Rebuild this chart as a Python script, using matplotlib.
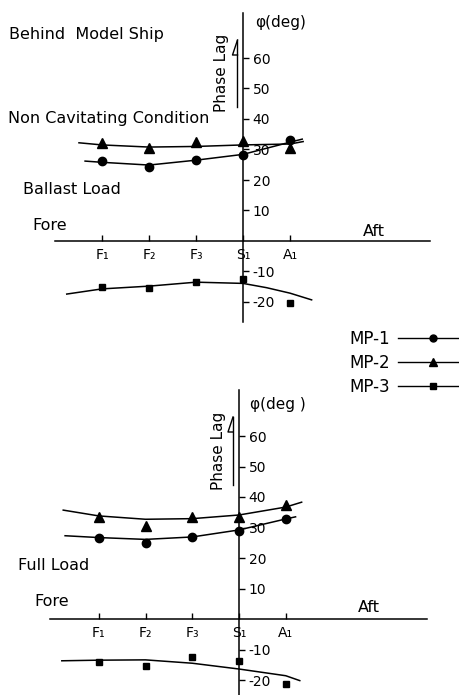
import matplotlib.pyplot as plt
from matplotlib.lines import Line2D


# ==========================================================
# Data (phase lag in deg, stations relative to S1)
# ==========================================================

STATIONS = ["F₁", "F₂", "F₃", "S₁", "A₁"]
STATION_X = [-3, -2, -1, 0, 1]
Y_TICKS = [-20, -10, 10, 20, 30, 40, 50, 60]

BALLAST_MP1 = [26.2, 24.2, 26.6, 28.2, 33.1]
BALLAST_MP2 = [32.0, 30.6, 32.6, 32.9, 30.4]
BALLAST_MP3 = [-15.0, -15.3, -13.5, -12.5, -20.4]

FULL_MP1 = [26.5, 25.0, 26.9, 29.0, 32.8]
FULL_MP2 = [33.5, 30.6, 33.5, 33.5, 37.4]
FULL_MP3 = [-14.2, -15.4, -12.6, -13.8, -21.3]

# faired curves
BALLAST_CX1 = [-3.36, -3, -2, -1, 0, 1, 1.26]
BALLAST_C1 = [26.2, 25.8, 24.9, 26.5, 28.4, 32.4, 33.4]
BALLAST_CX2 = [-3.49, -3, -2, -1, 0, 1, 1.28]
BALLAST_C2 = [32.2, 31.5, 30.8, 31.0, 31.5, 31.8, 32.6]
BALLAST_CX3 = [-3.75, -3, -2, -1, 0, 0.5, 1, 1.46]
BALLAST_C3 = [-17.4, -15.7, -14.8, -13.5, -13.9, -15.3, -17.1, -19.3]

FULL_CX1 = [-3.72, -3, -2, -1, 0, 1, 1.21]
FULL_C1 = [27.3, 26.7, 26.1, 26.9, 29.2, 32.8, 33.5]
FULL_CX2 = [-3.76, -3, -2, -1, 0, 1, 1.34]
FULL_C2 = [35.7, 33.8, 32.7, 32.9, 34.1, 36.7, 38.3]
FULL_CX3 = [-3.79, -3, -2, -1, 0, 1, 1.3]
FULL_C3 = [-13.7, -13.5, -13.4, -14.5, -16.4, -18.6, -20.2]

LEGEND_LABELS = ["MP-1", "MP-2", "MP-3"]
MARKERS = ["o", "^", "s"]
MARKER_SIZES = [6, 6.5, 5]

plt.rcParams["axes.unicode_minus"] = False


# ==========================================================
# Helper
# ==========================================================

def setup_panel(fig, rect, xlim, ylim, xbounds, ybounds):
    ax = fig.add_axes(rect)
    ax.patch.set_alpha(0)
    ax.set_xlim(*xlim)
    ax.set_ylim(*ylim)
    ax.spines["top"].set_visible(False)
    ax.spines["left"].set_visible(False)
    ax.spines["bottom"].set_position(("data", 0))
    ax.spines["right"].set_position(("data", 0))
    ax.spines["bottom"].set_bounds(*xbounds)
    ax.spines["right"].set_bounds(*ybounds)
    ax.spines["bottom"].set_linewidth(1.1)
    ax.spines["right"].set_linewidth(1.1)
    ax.xaxis.set_ticks_position("bottom")
    ax.yaxis.set_ticks_position("right")
    ax.set_xticks(STATION_X, STATIONS)
    ax.set_yticks(Y_TICKS)
    ax.tick_params(axis="x", direction="in", length=4, width=1,
                   pad=5, labelsize=10)
    ax.tick_params(axis="y", direction="out", length=4, width=1,
                   pad=3, labelsize=10)
    return ax


def draw_series(ax, points, curves):
    for vals, (cx, cy), m, ms in zip(points, curves, MARKERS, MARKER_SIZES):
        ax.plot(STATION_X, vals, linestyle="none", marker=m,
                markersize=ms, color="black")
        ax.plot(cx, cy, color="black", linewidth=1.1)


def phase_arrow(ov, x, y_top, y_bot):
    ov.plot([x, x], [y_bot, y_top], color="black", linewidth=1)
    ov.plot([x, x - 5, x], [y_top, y_top + 15, y_top + 15],
            color="black", linewidth=1)


# ==========================================================
# Figure
# ==========================================================

fig = plt.figure(figsize=(4.6, 6.95), dpi=100)

top = setup_panel(
    fig,
    [0, 355 / 695, 1, 340 / 695],
    (-243 / 47, 217 / 47),
    (-99 / 3.05, 241 / 3.05),
    (-4.0, 3.98),
    (-26.5, 74.7),
)
draw_series(
    top,
    [BALLAST_MP1, BALLAST_MP2, BALLAST_MP3],
    [(BALLAST_CX1, BALLAST_C1), (BALLAST_CX2, BALLAST_C2),
     (BALLAST_CX3, BALLAST_C3)],
)

bottom = setup_panel(
    fig,
    [0, 0, 1, 350 / 695],
    (-239 / 46.75, 221 / 46.75),
    (-76 / 3.05, 274 / 3.05),
    (-4.04, 4.02),
    (-24.9, 75.1),
)
draw_series(
    bottom,
    [FULL_MP1, FULL_MP2, FULL_MP3],
    [(FULL_CX1, FULL_C1), (FULL_CX2, FULL_C2), (FULL_CX3, FULL_C3)],
)

# overlay in pixel units for the free text
ov = fig.add_axes([0, 0, 1, 1])
ov.set_xlim(0, 460)
ov.set_ylim(695, 0)
ov.axis("off")

labels = [
    (9, 35, "Behind  Model Ship"),
    (8, 119, "Non Cavitating Condition"),
    (23, 189, "Ballast Load"),
    (32, 226, "Fore"),
    (363, 232, "Aft"),
    (18, 565, "Full Load"),
    (34, 602, "Fore"),
    (358, 608, "Aft"),
]
for x, y, s in labels:
    ov.text(x, y, s, fontsize=11.5, ha="left", va="center")

ov.text(255, 23, "φ(deg)", fontsize=11, ha="left", va="center")
ov.text(250, 404, "φ(deg )", fontsize=11, ha="left", va="center")
ov.text(222, 73, "Phase Lag", fontsize=11, rotation=90,
        ha="center", va="center")
ov.text(219, 451, "Phase Lag", fontsize=11, rotation=90,
        ha="center", va="center")
phase_arrow(ov, 237.5, 40, 107)
phase_arrow(ov, 233, 417, 485)

handles = [
    Line2D([], [], color="black", linewidth=1, marker=m, markersize=ms - 1)
    for m, ms in zip(MARKERS, MARKER_SIZES)
]
ov.legend(
    handles,
    LEGEND_LABELS,
    loc="upper left",
    bbox_to_anchor=(349 / 460, 1 - 330 / 695),
    markerfirst=False,
    frameon=False,
    fontsize=12,
    handlelength=4.2,
    handletextpad=0.5,
    labelspacing=0.35,
    borderpad=0,
    borderaxespad=0,
)

fig.savefig("out.png", dpi=100)
